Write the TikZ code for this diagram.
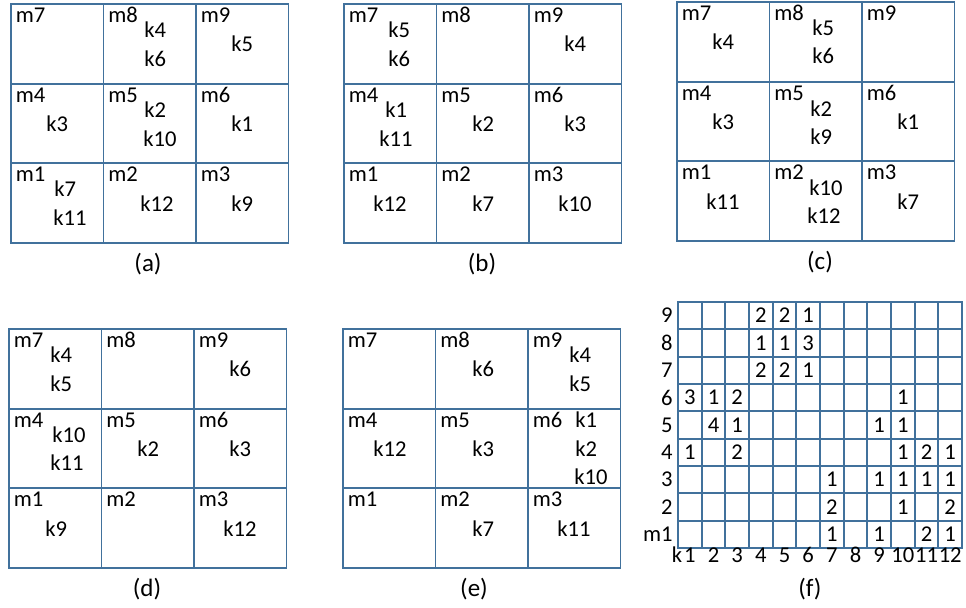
\documentclass[tikz,border=0pt]{standalone}
\usepackage{fontspec}
\setmainfont{Carlito}
\usepackage{tikz}
\definecolor{gridc}{HTML}{41719C}
\tikzset{
  gl/.style={draw=gridc,line width=0.9pt,line cap=rect},
  lab/.style={inner sep=0pt,anchor=base west,font=\fontsize{11.3}{13}\selectfont},
  num/.style={inner sep=0pt,font=\fontsize{11.3}{13}\selectfont},
  capt/.style={inner sep=0pt,anchor=base,font=\fontsize{12.5}{14}\selectfont}
}
% 3x3 board with its m labels: name, left, top
\newcommand{\board}[3]{%
  \foreach \i in {0,...,3} {
    \draw[gl] (#2+\i*92.5,#3) -- (#2+\i*92.5,#3+239);
    \draw[gl] (#2,#3+\i*79.7) -- (#2+277.5,#3+\i*79.7);
  }
  \foreach \n in {1,...,9} {
    \pgfmathtruncatemacro\cc{mod(\n-1,3)}
    \pgfmathtruncatemacro\rr{2-div(\n-1,3)}
    \node[lab] (#1m\n) at (#2+4.5+\cc*92.5,#3+18.5+\rr*79.7) {m\n};
  }
}
\begin{document}
\begin{tikzpicture}[x=0.5pt,y=-0.5pt]
\useasboundingbox (0,0) rectangle (966,608);
% (a)
\board{a}{11}{4}
\node[lab] (ak4) at (144,38) {k4}; \node[lab] (ak6) at (144,67) {k6};
\node[lab] (ak5) at (231,52) {k5};
\node[lab] (ak3) at (46,132) {k3};
\node[lab] (ak2) at (144,118) {k2}; \node[lab] (ak10) at (143,147) {k10};
\node[lab] (ak1) at (231,132) {k1};
\node[lab] (ak7) at (54,197) {k7}; \node[lab] (ak11) at (53,226) {k11};
\node[lab] (ak12) at (140,212) {k12};
\node[lab] (ak9) at (231,212) {k9};
\node[capt] (capa) at (148,272) {(a)};
% (b)
\board{b}{344}{4}
\node[lab] (bk5) at (388,38) {k5}; \node[lab] (bk6) at (388,67) {k6};
\node[lab] (bk4) at (564,52) {k4};
\node[lab] (bk1) at (385,118) {k1}; \node[lab] (bk11) at (379,147) {k11};
\node[lab] (bk2) at (472,132) {k2};
\node[lab] (bk3) at (564,132) {k3};
\node[lab] (bk12) at (373,212) {k12};
\node[lab] (bk7) at (472,212) {k7};
\node[lab] (bk10) at (558,212) {k10};
\node[capt] (capb) at (482,272) {(b)};
% (c)
\board{c}{677}{2}
\node[lab] (ck4) at (712,50) {k4};
\node[lab] (ck5) at (812,36) {k5}; \node[lab] (ck6) at (812,64) {k6};
\node[lab] (ck3) at (712,130) {k3};
\node[lab] (ck2) at (810,117) {k2}; \node[lab] (ck9) at (810,145) {k9};
\node[lab] (ck1) at (897,130) {k1};
\node[lab] (ck11) at (706,210) {k11};
\node[lab] (ck10) at (809,196) {k10}; \node[lab] (ck12) at (807,224) {k12};
\node[lab] (ck7) at (897,210) {k7};
\node[capt] (capc) at (820,270) {(c)};
% (d)
\board{d}{9}{329}
\node[lab] (dk4) at (50,363) {k4}; \node[lab] (dk5) at (50,392) {k5};
\node[lab] (dk6) at (229,377) {k6};
\node[lab] (dk10) at (52,443) {k10}; \node[lab] (dk11) at (50,471) {k11};
\node[lab] (dk2) at (137,457) {k2};
\node[lab] (dk3) at (229,457) {k3};
\node[lab] (dk9) at (45,537) {k9};
\node[lab] (dk12) at (223,537) {k12};
\node[capt] (capd) at (147,597) {(d)};
% (e)
\board{e}{343}{329}
\node[lab] (ek6) at (472,377) {k6};
\node[lab] (ek4) at (569,363) {k4}; \node[lab] (ek5) at (569,392) {k5};
\node[lab] (ek12) at (373,457) {k12};
\node[lab] (ek3) at (472,457) {k3};
\node[lab] (ek1) at (575,428) {k1}; \node[lab] (ek2) at (575,457) {k2};
\node[lab] (ek10) at (574,485) {k10};
\node[lab] (ek7) at (472,537) {k7};
\node[lab] (ek11) at (557,537) {k11};
\node[capt] (cape) at (474,597) {(e)};
% (f)
\foreach \i in {0,...,12} \draw[gl] (678+\i*23.67,302) -- (678+\i*23.67,548);
\foreach \j in {0,...,9} \draw[gl] (678,302+\j*27.33) -- (962,302+\j*27.33);
\foreach \lbl [count=\t] in {9,8,7,6,5,4,3,2,m1}
  \node[num,anchor=east] (row\t) at (673,302+\t*27.33-13.67) {\lbl};
\node[num,anchor=base] (colk) at (677,563) {k};
\foreach \c in {1,...,12}
  \node[num,anchor=base] (col\c) at (678+\c*23.67-11.83,563) {\c};
\foreach \t/\c/\v in {1/4/2,1/5/2,1/6/1,2/4/1,2/5/1,2/6/3,3/4/2,3/5/2,3/6/1,
    4/1/3,4/2/1,4/3/2,4/10/1,5/2/4,5/3/1,5/9/1,5/10/1,
    6/1/1,6/3/2,6/10/1,6/11/2,6/12/1,7/7/1,7/9/1,7/10/1,7/11/1,7/12/1,
    8/7/2,8/10/1,8/12/2,9/7/1,9/9/1,9/11/2,9/12/1}
  \node[num] (f\t-\c) at (678+\c*23.67-11.83,302+\t*27.33-13.67) {\v};
\node[capt] (capf) at (810,597) {(f)};
\end{tikzpicture}
\end{document}
